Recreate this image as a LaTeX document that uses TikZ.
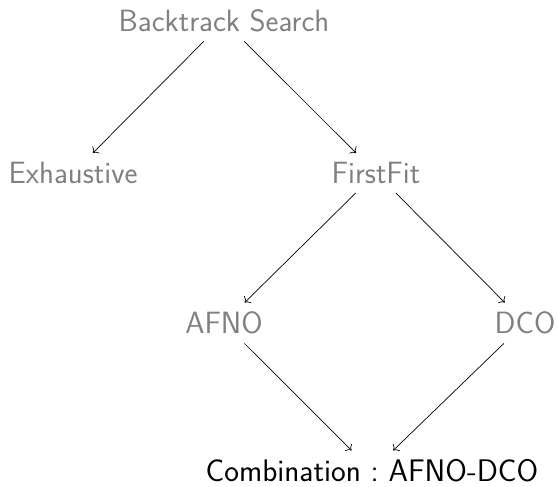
\documentclass[tikz,border=0pt]{standalone}
\usetikzlibrary{arrows.meta}
\begin{document}
\begin{tikzpicture}[x=1pt,y=-1pt,
  lbl/.style={font=\sffamily\fontsize{30.8}{36}\selectfont, text=gray, inner sep=9pt},
  result/.style={font=\sffamily\fontsize{31.2}{37}\selectfont, text=black, inner sep=9pt},
  link/.style={-{To[scale=1.5]}, line width=0.7pt}]
  \useasboundingbox (0,0) rectangle (558,487);
  % search tree
  \node[lbl] (bs) at (224,21) {Backtrack Search};
  \node[lbl] (ex) at (73,173) {Exhaustive};
  \node[lbl] (ff) at (376,173) {FirstFit};
  \node[lbl] (afno) at (224,323) {AFNO};
  \node[lbl] (dco) at (525,323) {DCO};
  \node[result] (comb) at (372,471) {Combination\ :\ AFNO-DCO};
  % connections
  \draw[link] (bs) -- (ex);
  \draw[link] (bs) -- (ff);
  \draw[link] (ff) -- (afno);
  \draw[link] (ff) -- (dco);
  \draw[link] (afno) -- (comb);
  \draw[link] (dco) -- (comb);
\end{tikzpicture}
\end{document}
